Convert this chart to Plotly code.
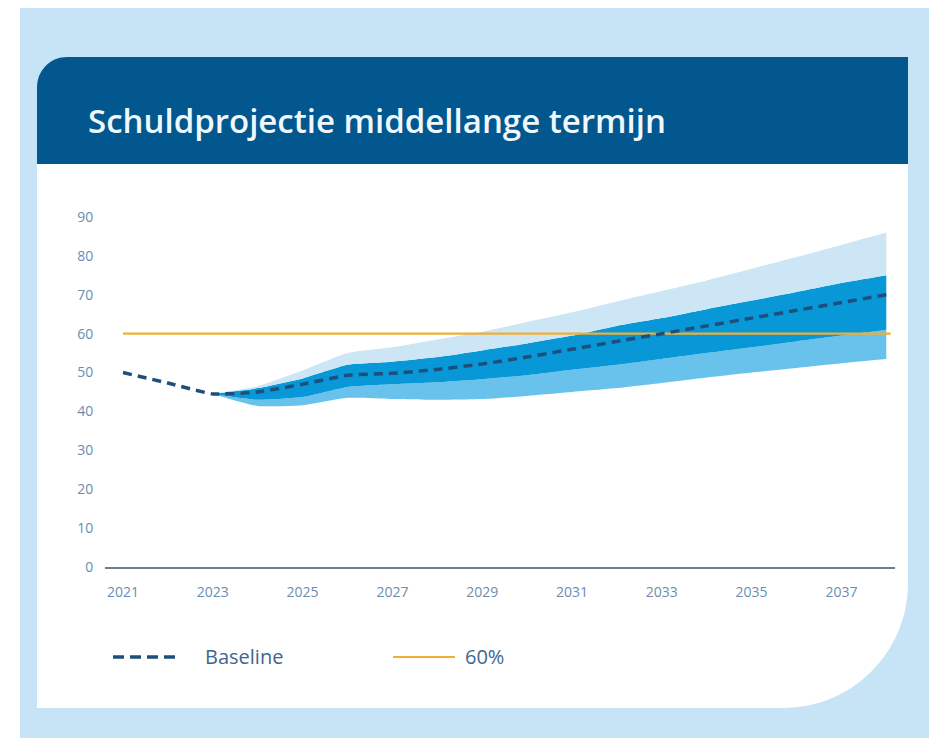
import plotly.graph_objects as go

# ---- data ----
years = list(range(2021, 2039))
baseline = [50, 47.3, 44.5, 45, 47, 49.3, 49.8, 50.8, 52.2, 54, 56, 58, 60, 62, 64, 66, 68, 70]

band_years = list(range(2023, 2039))
outer_upper = [44.5, 46.5, 50.5, 55, 56.5, 58.5, 60.5, 63, 65.5, 68.3, 71, 73.7, 76.7, 79.7, 82.8, 86]
inner_upper = [44.5, 46, 48.5, 52, 52.8, 54, 55.7, 57.5, 59.5, 62, 64, 66.3, 68.5, 70.7, 73, 75]
inner_lower = [44.5, 43, 43.7, 46.3, 47, 47.5, 48.3, 49.3, 50.7, 52, 53.5, 55, 56.5, 58, 59.5, 61]
outer_lower = [44.5, 41.4, 41.6, 43.5, 43.2, 43, 43.2, 44, 45, 46, 47.3, 48.7, 50, 51.2, 52.4, 53.5]

threshold_x = [2021, 2038.1]
threshold_y = [60, 60]

x_ticks = [2021, 2023, 2025, 2027, 2029, 2031, 2033, 2035, 2037]
y_ticks = [0, 10, 20, 30, 40, 50, 60, 70, 80, 90]

title_text = "Schuldprojectie middellange termijn"
legend_labels = ["Baseline", "60%"]

# ---- styling ----
W, H = 937, 738
OFF = 8  # page body margin: figure is drawn 8px right/down
L, R, T, B = 105 - OFF, 895 - OFF, 205 - OFF, 567 - OFF  # plot area in figure pixels

BG_BLUE = "#c7e3f6"
HEADER = "#01578e"
PALE = "#cce6f5"
DARK = "#0898d7"
MID = "#68c2eb"
NAVY = "#1d4f7c"
GOLD = "#f0ae35"
TICK = "#6a8db1"


def px(x):
    # x given in reference-screenshot pixels
    return (x - OFF - L) / (R - L)


def py(y):
    return (B - (y - OFF)) / (B - T)


def pt(x, y):
    return f"{px(x):.5f},{py(y):.5f}"


K = 0.5523

fig = go.Figure()

fig.add_trace(go.Scatter(x=band_years, y=outer_lower, mode="lines",
                         line=dict(width=0, shape="spline", smoothing=0.5),
                         showlegend=False, hoverinfo="skip"))
fig.add_trace(go.Scatter(x=band_years, y=inner_lower, mode="lines", fill="tonexty",
                         fillcolor=MID, line=dict(width=0, shape="spline", smoothing=0.5),
                         showlegend=False, hoverinfo="skip"))
fig.add_trace(go.Scatter(x=band_years, y=inner_upper, mode="lines", fill="tonexty",
                         fillcolor=DARK, line=dict(width=0, shape="spline", smoothing=0.5),
                         showlegend=False, hoverinfo="skip"))
fig.add_trace(go.Scatter(x=band_years, y=outer_upper, mode="lines", fill="tonexty",
                         fillcolor=PALE, line=dict(width=0, shape="spline", smoothing=0.5),
                         showlegend=False, hoverinfo="skip"))
fig.add_trace(go.Scatter(x=threshold_x, y=threshold_y, mode="lines", name=legend_labels[1],
                         line=dict(color=GOLD, width=2.2), showlegend=False))
fig.add_trace(go.Scatter(x=years, y=baseline, mode="lines", name=legend_labels[0],
                         line=dict(color=NAVY, width=3.5, dash="9px,6px",
                                   shape="spline", smoothing=0.4),
                         showlegend=False))

shapes = []
# light blue page
shapes.append(dict(type="rect", xref="paper", yref="paper",
                   x0=px(20), x1=px(W + 20), y0=py(H + 20), y1=py(6),
                   fillcolor=BG_BLUE, line=dict(width=0), layer="below"))
# white card
r1, r2 = 30, 125
cx0, cy0, cx1, cy1 = 37, 57, 908, 708
card = (f"M {pt(cx0, cy0 + r1)} C {pt(cx0, cy0 + r1 - K * r1)} {pt(cx0 + r1 - K * r1, cy0)} {pt(cx0 + r1, cy0)} "
        f"L {pt(cx1, cy0)} L {pt(cx1, cy1 - r2)} "
        f"C {pt(cx1, cy1 - r2 + K * r2)} {pt(cx1 - r2 + K * r2, cy1)} {pt(cx1 - r2, cy1)} "
        f"L {pt(cx0, cy1)} Z")
shapes.append(dict(type="path", xref="paper", yref="paper", path=card,
                   fillcolor="white", line=dict(width=0), layer="below"))
# header band
hy1 = 164
header = (f"M {pt(cx0, cy0 + r1)} C {pt(cx0, cy0 + r1 - K * r1)} {pt(cx0 + r1 - K * r1, cy0)} {pt(cx0 + r1, cy0)} "
          f"L {pt(cx1, cy0)} L {pt(cx1, hy1)} L {pt(cx0, hy1)} Z")
shapes.append(dict(type="path", xref="paper", yref="paper", path=header,
                   fillcolor=HEADER, line=dict(width=0), layer="below"))
# legend samples
shapes.append(dict(type="line", xref="paper", yref="paper",
                   x0=px(113), x1=px(178), y0=py(657), y1=py(657),
                   line=dict(color=NAVY, width=3.5, dash="11px,6px")))
shapes.append(dict(type="line", xref="paper", yref="paper",
                   x0=px(393), x1=px(455), y0=py(657), y1=py(657),
                   line=dict(color=GOLD, width=2.2)))

annotations = [
    dict(text=title_text, xref="paper", yref="paper", x=px(86), y=py(121),
         xanchor="left", yanchor="middle", showarrow=False,
         font=dict(family="Open Sans", size=33, color="#eef8fd", weight=600)),
    dict(text=legend_labels[0], xref="paper", yref="paper", x=px(203), y=py(656),
         xanchor="left", yanchor="middle", showarrow=False,
         font=dict(family="Open Sans", size=20, color="#3f6690")),
    dict(text=legend_labels[1], xref="paper", yref="paper", x=px(463), y=py(656),
         xanchor="left", yanchor="middle", showarrow=False,
         font=dict(family="Open Sans", size=20, color="#3f6690")),
]

fig.update_layout(
    width=W, height=H,
    margin=dict(l=L, r=W - R, t=T, b=H - B, pad=0),
    paper_bgcolor="white",
    plot_bgcolor="rgba(0,0,0,0)",
    shapes=shapes,
    annotations=annotations,
    showlegend=False,
    xaxis=dict(range=[2021 - 18 / 44.9, 2021 + 772 / 44.9], tickvals=x_ticks,
               showgrid=False, zeroline=False, showline=True, linecolor="#6c7f92", linewidth=2,
               ticks="outside", ticklen=11, tickcolor="rgba(0,0,0,0)",
               tickfont=dict(family="Open Sans", size=14, color=TICK)),
    yaxis=dict(range=[0, (B - T) / (350 / 90)], tickvals=y_ticks,
               showgrid=False, zeroline=False, showline=False,
               ticks="outside", ticklen=8, tickcolor="rgba(0,0,0,0)",
               tickfont=dict(family="Open Sans", size=14, color=TICK)),
)

fig.write_html("out.html")
